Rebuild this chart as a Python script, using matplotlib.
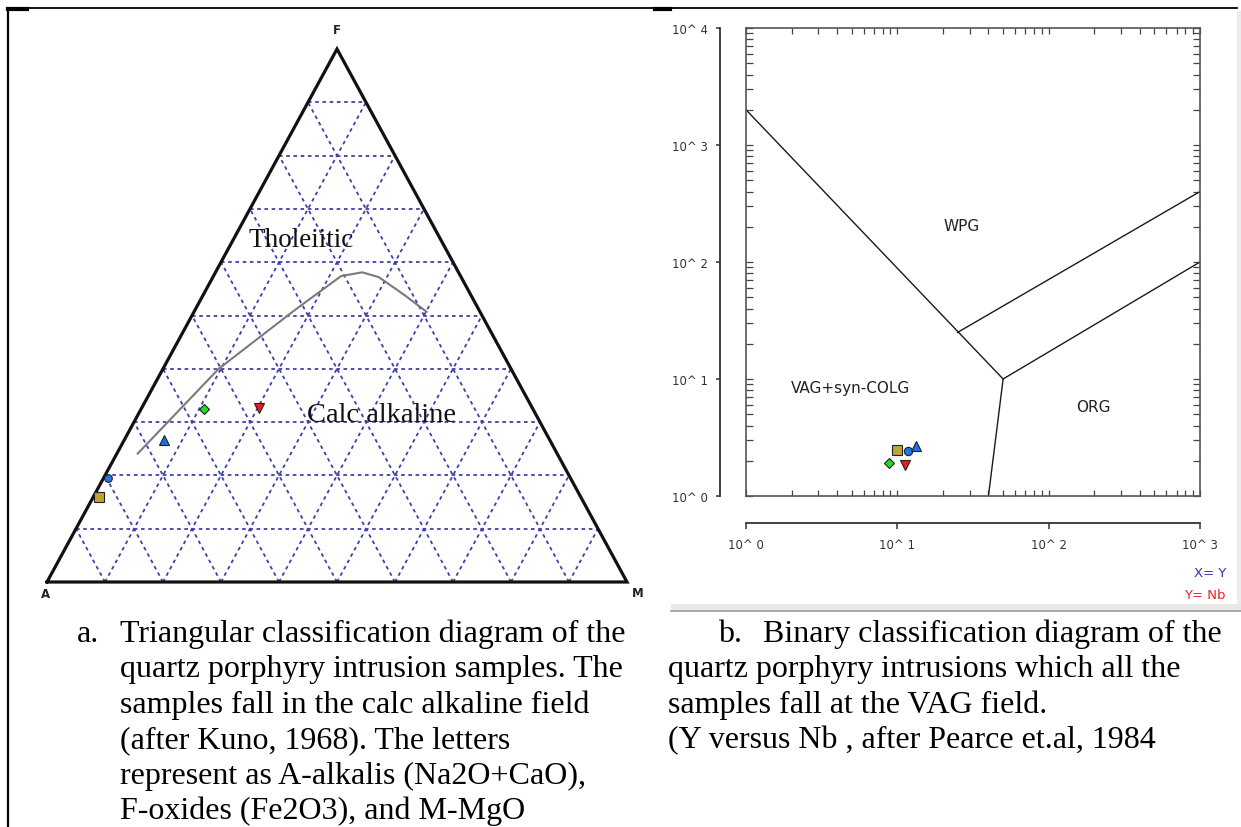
import numpy as np
import matplotlib
matplotlib.use('Agg')
import matplotlib.pyplot as plt
from matplotlib.patches import Rectangle
from matplotlib.ticker import LogLocator, FixedLocator, NullLocator, NullFormatter

W, H = 1241, 828

# Muestras en el diagrama AFM (porcentajes A / F / M)
tern_A = [83.0, 79.7, 66.5, 56.7, 47.1]
tern_F = [16.0, 19.5, 26.6, 32.5, 32.7]
tern_M = [1.0, 0.8, 6.9, 10.8, 20.2]

# Linea de Kuno (1968) entre toleitico y calcoalcalino
kuno_A = [72.3, 50.4, 31.8, 20.6, 16.6, 14.2, 11.5, 9.2]
kuno_F = [24.1, 40.0, 51.0, 57.4, 58.1, 57.2, 53.9, 50.7]
kuno_M = [3.6, 9.6, 17.2, 22.0, 25.3, 28.6, 34.6, 40.1]

# Muestras en el diagrama Y vs Nb (ppm)
Y_ppm = [10.0, 11.7, 13.2, 8.8, 11.2]
Nb_ppm = [2.45, 2.42, 2.65, 1.92, 1.84]

# Limites de campos (Pearce et al. 1984)
vag_Y = [1, 50, 40]
vag_Nb = [2000, 10, 1]
org_low_Y = [50, 1000]
org_low_Nb = [10, 100]
org_up_Y = [25, 1000]
org_up_Nb = [25, 400]

decades_x = [0, 1, 2, 3]
decades_y = [0, 1, 2, 3, 4]

sample_markers = ['s', 'o', '^', 'D', 'v']
sample_colors = ['#bfa52e', '#1f78e6', '#1f6fe0', '#22dd22', '#ee1c1c']
tern_sizes = [7, 5.5, 7, 5, 7]
bin_sizes = [7.5, 6, 6.5, 5.5, 7]


def tern_xy(a, f, m):
    a, f, m = np.asarray(a, float), np.asarray(f, float), np.asarray(m, float)
    tot = a + f + m
    f, m = f / tot, m / tot
    return m + f / 2, f


fig = plt.figure(figsize=(W / 100, H / 100), dpi=100)

# Fondo con bordes de tabla y leyendas (coordenadas en pixeles)
ax_bg = fig.add_axes([0, 0, 1, 1])
ax_bg.set_xlim(0, W)
ax_bg.set_ylim(H, 0)
ax_bg.axis('off')
ax_bg.plot([8, 1237], [9, 9], color='black', lw=1.3)
ax_bg.plot([8, 8], [9, H], color='black', lw=1.6)
ax_bg.plot([8, 27], [10, 10], color='black', lw=3)
ax_bg.plot([655, 670], [10, 10], color='black', lw=3)
ax_bg.add_patch(Rectangle((1237, 12), 4, 600, color='#ececec', lw=0))
ax_bg.add_patch(Rectangle((671, 605), 570, 6, color='#e8e8e8', lw=0))
ax_bg.plot([671, W], [612, 612], color='#9a9a9a', lw=1.2)

serif = 'Liberation Serif'
a_lines = ["Triangular classification diagram of the",
           "quartz porphyry intrusion samples. The",
           "samples fall in the calc alkaline field",
           "(after Kuno, 1968). The letters",
           "represent as A-alkalis (Na2O+CaO),",
           "F-oxides (Fe2O3), and M-MgO"]
b_lines = ["quartz porphyry intrusions which all the",
           "samples fall at the VAG field.",
           "(Y versus Nb , after Pearce et.al, 1984"]
base0, step = 642, 35.4
ax_bg.text(77, base0, "a.", family=serif, fontsize=23, va='baseline')
for i, s in enumerate(a_lines):
    ax_bg.text(120, base0 + i * step, s, family=serif, fontsize=23, va='baseline')
ax_bg.text(718, base0, "b.", family=serif, fontsize=23, va='baseline')
ax_bg.text(763, base0, "Binary classification diagram of the", family=serif,
           fontsize=23, va='baseline')
for i, s in enumerate(b_lines):
    ax_bg.text(668, base0 + (i + 1) * step, s, family=serif, fontsize=23, va='baseline')

ax_bg.text(1226, 574, "X= Y", color='#3333bb', fontsize=9.5, ha='right', va='center')
ax_bg.text(1226, 596, "Y= Nb", color='#ee2222', fontsize=9.5, ha='right', va='center')

# ---------------- Diagrama ternario AFM ----------------
ax_t = fig.add_axes([47 / W, (H - 583) / H, 580 / W, 533 / H])
ax_t.set_xlim(0, 1)
ax_t.set_ylim(0, 1)
ax_t.axis('off')

grid_kw = dict(color='#4040aa', lw=1.3, ls=(0, (2.0, 2.0)), zorder=1)
for i in range(1, 10):
    t = i / 10
    for p, q in [((1 - t, t, 0), (0, t, 1 - t)),
                 ((1 - t, 0, t), (0, 1 - t, t)),
                 ((t, 0, 1 - t), (t, 1 - t, 0))]:
        x, y = tern_xy([p[0], q[0]], [p[1], q[1]], [p[2], q[2]])
        ax_t.plot(x, y, **grid_kw)

tx, ty = tern_xy([100, 0, 0, 100], [0, 100, 0, 0], [0, 0, 100, 0])
ax_t.plot(tx, ty, color='#111111', lw=2.3, zorder=3, clip_on=False,
          solid_joinstyle='miter')

kx, ky = tern_xy(kuno_A, kuno_F, kuno_M)
ax_t.plot(kx, ky, color='#7a7a7a', lw=1.5, zorder=2)

sx, sy = tern_xy(tern_A, tern_F, tern_M)
for x, y, mk, c, ms in zip(sx, sy, sample_markers, sample_colors, tern_sizes):
    ax_t.plot(x, y, marker=mk, color=c, ms=ms, mec='#222222', mew=0.8,
              ls='none', zorder=4, clip_on=False)

lab_kw = dict(fontsize=8.5, fontweight='bold', color='#222222', ha='center', va='center')
ax_t.text(0.5, 1.0375, 'F', **lab_kw)
ax_t.text(-0.003, -0.0225, 'A', **lab_kw)
ax_t.text(1.019, -0.0206, 'M', **lab_kw)

ax_t.text(0.438, 0.642, 'Tholeiitic', family=serif, fontsize=19.5,
          ha='center', va='center', color='#111111')
ax_t.text(0.576, 0.315, 'Calc alkaline', family=serif, fontsize=20.5,
          ha='center', va='center', color='#111111')

# ---------------- Diagrama Y vs Nb ----------------
pos = [746 / W, (H - 497) / H, 454 / W, 468 / H]
ax_b = fig.add_axes(pos)
ax_b.set_xscale('log')
ax_b.set_yscale('log')
ax_b.set_xlim(1, 1000)
ax_b.set_ylim(1, 10000)
for sp in ax_b.spines.values():
    sp.set_color('#555555')
    sp.set_linewidth(1.2)
ax_b.xaxis.set_major_locator(LogLocator(base=10, numticks=10))
ax_b.yaxis.set_major_locator(LogLocator(base=10, numticks=10))
ax_b.xaxis.set_minor_locator(LogLocator(base=10, subs=np.arange(2, 10), numticks=12))
ax_b.yaxis.set_minor_locator(LogLocator(base=10, subs=np.arange(2, 10), numticks=12))
ax_b.xaxis.set_minor_formatter(NullFormatter())
ax_b.yaxis.set_minor_formatter(NullFormatter())
ax_b.tick_params(which='both', direction='in', top=True, right=True,
                 labelleft=False, labelbottom=False, color='#444444', width=0.9)
ax_b.tick_params(axis='x', which='both', length=4)
ax_b.tick_params(axis='y', which='both', length=5)

line_kw = dict(color='#1a1a1a', lw=1.0)
ax_b.plot(vag_Y, vag_Nb, **line_kw)
ax_b.plot(org_low_Y, org_low_Nb, **line_kw)
ax_b.plot(org_up_Y, org_up_Nb, **line_kw)

for x, y, mk, c, ms in zip(Y_ppm, Nb_ppm, sample_markers, sample_colors, bin_sizes):
    ax_b.plot(x, y, marker=mk, color=c, ms=ms, mec='#222222', mew=0.8,
              ls='none', zorder=4)

txt_kw = dict(fontsize=11, color='#222222', ha='center', va='center')
ax_b.text(26.7, 207, 'WPG', **txt_kw)
ax_b.text(4.94, 8.4, 'VAG+syn-COLG', **txt_kw)
ax_b.text(198, 5.8, 'ORG', **txt_kw)

# Ejes separados con etiquetas de decadas
ax_o = fig.add_axes(pos)
ax_o.patch.set_visible(False)
ax_o.set_xscale('log')
ax_o.set_yscale('log')
ax_o.set_xlim(1, 1000)
ax_o.set_ylim(1, 10000)
ax_o.spines['top'].set_visible(False)
ax_o.spines['right'].set_visible(False)
ax_o.spines['left'].set_position(('outward', 26 * 0.72))
ax_o.spines['bottom'].set_position(('outward', 27 * 0.72))
for s in ['left', 'bottom']:
    ax_o.spines[s].set_color('#333333')
    ax_o.spines[s].set_linewidth(1.3)
ax_o.xaxis.set_major_locator(FixedLocator([10.0 ** d for d in decades_x]))
ax_o.yaxis.set_major_locator(FixedLocator([10.0 ** d for d in decades_y]))
ax_o.xaxis.set_minor_locator(NullLocator())
ax_o.yaxis.set_minor_locator(NullLocator())
ax_o.set_xticklabels([f"10^ {d}" for d in decades_x])
ax_o.set_yticklabels([f"10^ {d}" for d in decades_y])
ax_o.tick_params(axis='x', direction='out', length=4.5, width=1.1, pad=6,
                 labelsize=8.5, labelcolor='#333333', color='#333333')
ax_o.tick_params(axis='y', direction='out', length=3, width=1.1, pad=6,
                 labelsize=8.5, labelcolor='#333333', color='#333333')

fig.savefig('out.png', dpi=100)
